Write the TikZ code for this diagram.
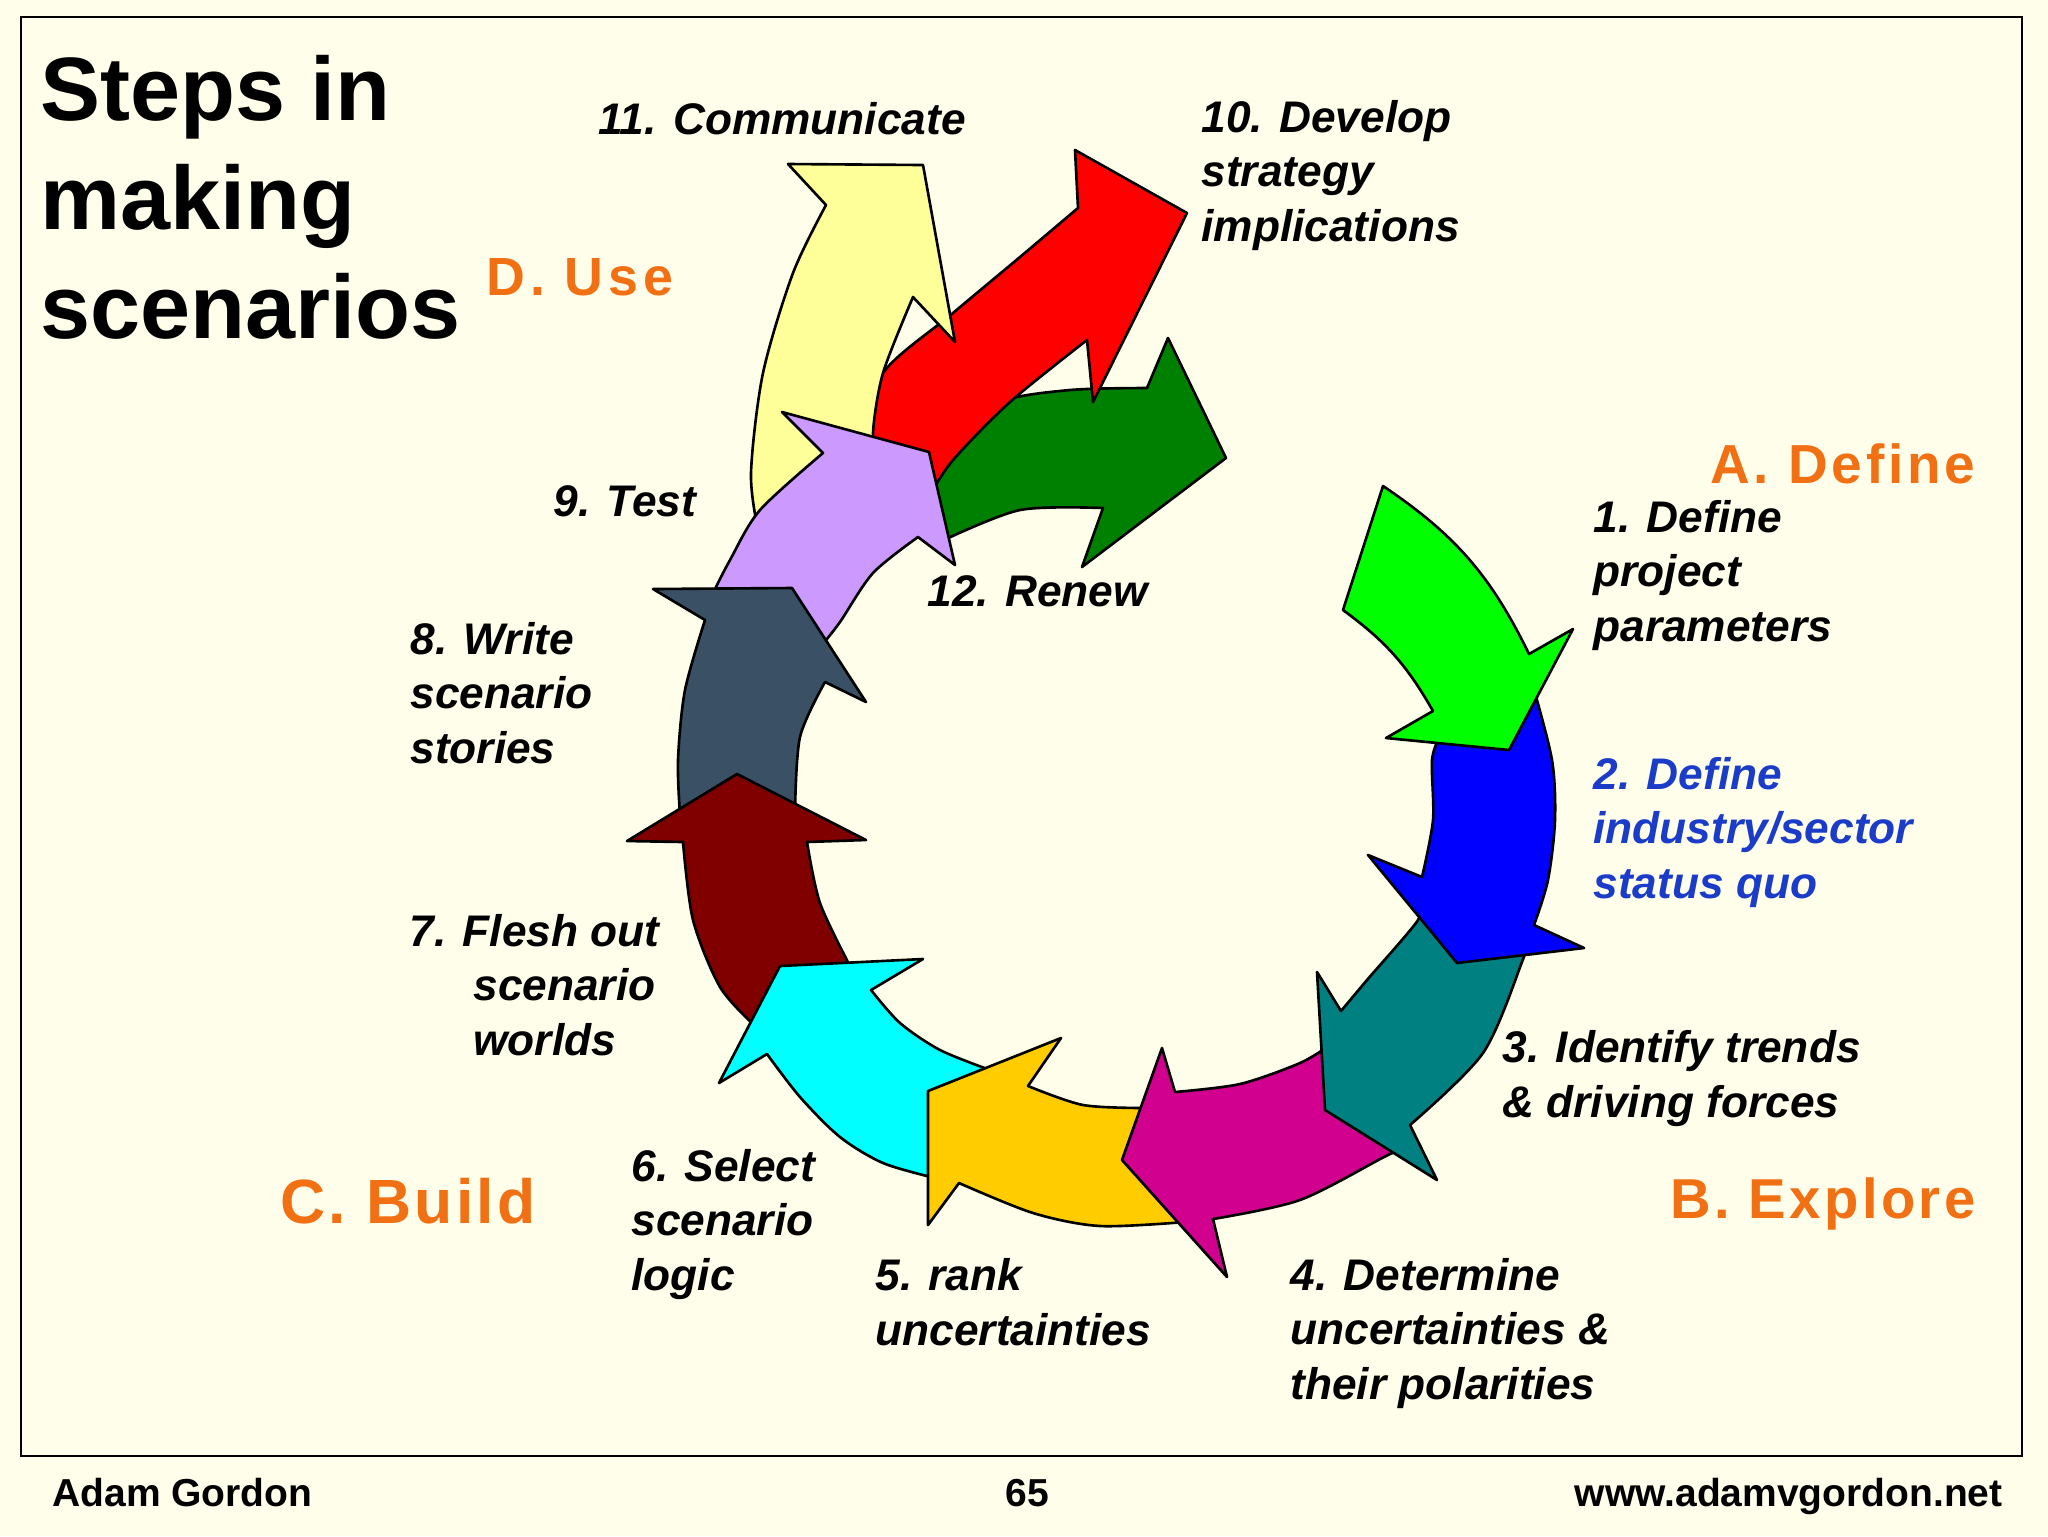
\documentclass[tikz,border=0pt]{standalone}
\usepackage{fontspec}
\setmainfont{Liberation Sans}
\definecolor{bg}{HTML}{FEFEEA}
\definecolor{orng}{HTML}{F27014}
\definecolor{bluetxt}{HTML}{1A3CC8}
\definecolor{cg1}{HTML}{00FF00}
\definecolor{cb2}{HTML}{0000FF}
\definecolor{ct3}{HTML}{008080}
\definecolor{cm4}{HTML}{D1008F}
\definecolor{cy5}{HTML}{FFCC00}
\definecolor{cc6}{HTML}{00FFFF}
\definecolor{cr7}{HTML}{800000}
\definecolor{cs8}{HTML}{3A5064}
\definecolor{cl9}{HTML}{CC99FF}
\definecolor{cr10}{HTML}{FF0000}
\definecolor{cy11}{HTML}{FFFF99}
\definecolor{cg12}{HTML}{008000}
\begin{document}
\begin{tikzpicture}[x=0.4pt,y=-0.4pt,
  arr/.style={draw=black,line width=1.05pt,line join=round},
  steplbl/.style={inner sep=0pt,anchor=base west,align=left,
    font=\fontsize{17.7}{21.8}\selectfont\bfseries\itshape},
  seclbl/.style={inner sep=0pt,text=orng,
    font=\fontsize{22}{26}\selectfont\bfseries\addfontfeature{LetterSpace=7}},
  foot/.style={inner sep=0pt,font=\fontsize{15.6}{18}\selectfont\bfseries}]
\useasboundingbox (0,0) rectangle (2048,1536);
\fill[bg] (0,0) rectangle (2048,1536);
\draw[line width=1.1pt] (21,17) rectangle (2022,1456);

% 12 Renew (dark green)
\filldraw[arr,fill=cg12] (944,540) -- (928,482) -- plot[smooth] coordinates {(928,482) (960,440) (1000,402) (1070,390) (1147,388)} -- (1168,338) -- (1226,458) -- (1082,567) -- (1103,508) -- plot[smooth] coordinates {(1103,508) (1020,510) (944,540)} -- cycle;
% 10 red
\filldraw[arr,fill=cr10] (868,440) -- (932,492) -- plot[smooth] coordinates {(932,492) (953,460) (1010,402) (1087,340)} -- (1093,402) -- (1187,213) -- (1075,150) -- (1078,208) -- plot[smooth] coordinates {(1078,208) (1020,257) (953,313) (883,373) (868,440)} -- cycle;
% 11 pale yellow
\filldraw[arr,fill=cy11] (880,450) -- (758,530) -- plot[smooth] coordinates {(758,530) (751,473) (763,373) (793,273) (826,205)} -- (788,164) -- (923,165) -- (955,342) -- (913,297) -- plot[smooth] coordinates {(913,297) (883,373) (873,433) (880,450)} -- cycle;
% 9 lavender
\filldraw[arr,fill=cl9] (822,645) -- (712,595) -- plot[smooth] coordinates {(712,595) (730,560) (760,510) (823,453)} -- (782,412) -- (929,452) -- (955,565) -- (918,537) -- plot[smooth] coordinates {(918,537) (873,573) (840,622) (822,645)} -- cycle;
% 8 slate
\filldraw[arr,fill=cs8] (795,812) -- (680,815) -- plot[smooth] coordinates {(680,815) (678,760) (685,690) (705,620)} -- (653,589) -- (792,588) -- (866,702) -- (825,682) -- plot[smooth] coordinates {(825,682) (800,737) (795,812)} -- cycle;
% 7 maroon
\filldraw[arr,fill=cr7] (850,966) -- (754,1025) -- plot[smooth] coordinates {(754,1025) (720,987) (693,920) (683,842)} -- (627,841) -- (737,774) -- (866,840) -- (807,842) -- plot[smooth] coordinates {(807,842) (820,903) (850,966)} -- cycle;
% 6 cyan
\filldraw[arr,fill=cc6] (990,1070) -- (935,1178) -- plot[smooth] coordinates {(935,1178) (883,1163) (840,1137) (800,1097) (767,1054)} -- (719,1083) -- (780,966) -- (923,959) -- (871,990) -- plot[smooth] coordinates {(871,990) (900,1023) (940,1050) (990,1070)} -- cycle;
% 5 gold
\filldraw[arr,fill=cy5] (1145,1108) -- (1185,1222) -- plot[smooth] coordinates {(1185,1222) (1100,1226) (1033,1213) (959,1183)} -- (928,1225) -- (928,1091) -- (1061,1038) -- (1028,1086) -- plot[smooth] coordinates {(1028,1086) (1083,1105) (1145,1108)} -- cycle;
% 4 magenta
\filldraw[arr,fill=cm4] (1330,1045) -- (1400,1150) -- plot[smooth] coordinates {(1400,1150) (1384,1157) (1300,1200) (1213,1219)} -- (1227,1277) -- (1122,1160) -- (1162,1048) -- (1175,1092) -- plot[smooth] coordinates {(1175,1092) (1240,1084) (1300,1063) (1330,1045)} -- cycle;
% 3 teal
\filldraw[arr,fill=ct3] (1415,905) -- (1526,945) -- plot[smooth] coordinates {(1526,945) (1522,962) (1483,1053) (1410,1125)} -- (1437,1180) -- (1325,1110) -- (1317,972) -- (1341,1011) -- plot[smooth] coordinates {(1341,1011) (1367,980) (1418,920) (1415,905)} -- cycle;
% 2 blue
\filldraw[arr,fill=cb2] (1440,736) -- (1533,686) -- plot[smooth] coordinates {(1533,686) (1552,760) (1555,820) (1548,880) (1534,925)} -- (1584,948) -- (1457,963) -- (1368,855) -- (1422,877) -- plot[smooth] coordinates {(1422,877) (1433,820) (1432,760) (1440,736)} -- cycle;
% 1 green
\filldraw[arr,fill=cg1] (1343,610) -- (1383,486) to[bend left=15] (1529,654) -- (1573,629) -- (1509,750) -- (1386,738) -- (1433,711) to[bend right=12] (1343,610) -- cycle;

% title (anchored at the baseline of its last line)
\node[inner sep=0pt,anchor=base west,align=left,font=\fontsize{36}{43.6}\selectfont\bfseries] (title) at (40,338) {Steps in\\making\\scenarios};

% section labels
\node[seclbl,anchor=base west,font=\fontsize{21.5}{25}\selectfont\bfseries\addfontfeature{LetterSpace=9}] (secD) at (486,295) {D. Use};
\node[seclbl,anchor=base east] (secA) at (1976,483) {A. Define};
\node[seclbl,anchor=base east,font=\fontsize{22.5}{26}\selectfont\bfseries\addfontfeature{LetterSpace=6}] (secB) at (1976,1218) {B. Explore};
\node[seclbl,anchor=base west,font=\fontsize{25}{29}\selectfont\bfseries\addfontfeature{LetterSpace=5}] (secC) at (280,1223) {C. Build};

% step labels (anchored at the baseline of the last line)
\node[steplbl] (s11) at (598,134) {11. Communicate};
\node[steplbl] (s10) at (1201,241) {10. Develop\\strategy\\implications};
\node[steplbl] (s1) at (1593,641) {1. Define\\project\\parameters};
\node[steplbl,text=bluetxt] (s2) at (1593,898) {2. Define\\industry/sector\\status quo};
\node[steplbl] (s3) at (1502,1117) {3. Identify trends\\\& driving forces};
\node[steplbl] (s4) at (1290,1399) {4. Determine\\uncertainties \&\\their polarities};
\node[steplbl] (s5) at (875,1345) {5. rank\\uncertainties};
\node[steplbl] (s6) at (631,1290) {6. Select\\scenario\\logic};
\node[steplbl] (s7) at (409,1055) {7. Flesh out\\\hspace*{25.6pt}scenario\\\hspace*{25.6pt}worlds};
\node[steplbl] (s8) at (410,763) {8. Write\\scenario\\stories};
\node[steplbl] (s9) at (553,516) {9. Test};
\node[steplbl] (s12) at (927,606) {12. Renew};

% footer
\node[foot,anchor=base west] (f1) at (52,1506) {Adam Gordon};
\node[foot,anchor=base] (f2) at (1027,1506) {65};
\node[foot,anchor=base east] (f3) at (2003,1506) {www.adamvgordon.net};
\end{tikzpicture}
\end{document}
